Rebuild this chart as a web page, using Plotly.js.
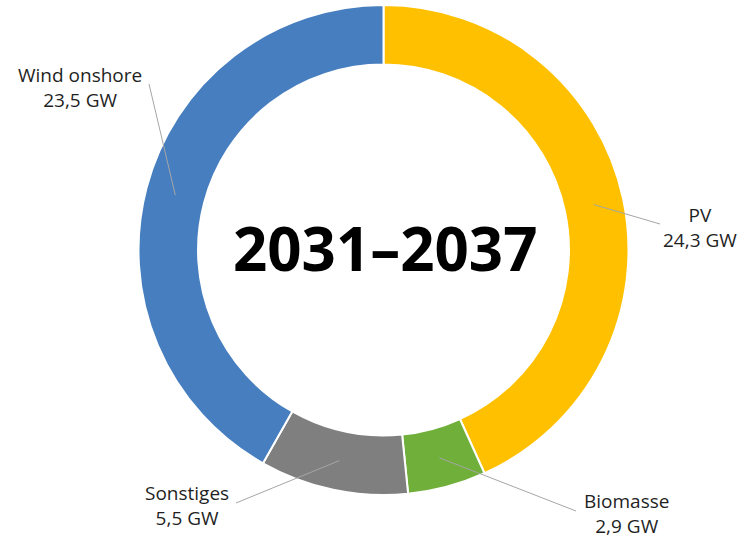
<!DOCTYPE html>
<html>
<head>
<meta charset="utf-8">
<script src="https://cdn.plot.ly/plotly-3.0.1.min.js"></script>
<style>html,body{margin:0;padding:0;background:#fff;}#chart{width:748px;height:538px;}</style>
</head>
<body>
<div id="chart"></div>
<script>
const categories = ["PV", "Biomasse", "Sonstiges", "Wind onshore"];
const values = [24.3, 2.9, 5.5, 23.5];
const valueLabels = ["24,3 GW", "2,9 GW", "5,5 GW", "23,5 GW"];
const colors = ["#FFC000", "#6FAF3A", "#7F7F7F", "#467EBF"];
const centerTitle = "2031–2037";

const W = 748, H = 538;
const cx = 383.5, cy = 250, R = 245, hole = 0.757;
// label anchor positions (pixels): text centre, and the leader line's outer end
const labelPos = [
  {tx: 700, ty: 227, lx: 660, ly: 224},
  {tx: 626, ty: 513, lx: 576, ly: 511},
  {tx: 187, ty: 505, lx: 236, ly: 503},
  {tx: 80,  ty: 87,  lx: 149, ly: 84}
];

const total = values.reduce((a, b) => a + b, 0);
const shapes = [], annotations = [];
let cum = 0;
const rMid = R * (1 + hole) / 2;
values.forEach((v, i) => {
  const mid = (cum + v / 2) / total * 2 * Math.PI;
  cum += v;
  const px = cx + rMid * Math.sin(mid);
  const py = cy - rMid * Math.cos(mid);
  const p = labelPos[i];
  shapes.push({type: 'line', xref: 'paper', yref: 'paper',
    x0: px / W, y0: 1 - py / H, x1: p.lx / W, y1: 1 - p.ly / H,
    line: {color: '#A6A6A6', width: 1}});
  annotations.push({xref: 'paper', yref: 'paper', x: p.tx / W, y: 1 - p.ty / H,
    xanchor: 'center', yanchor: 'middle', showarrow: false,
    text: categories[i] + '<br>' + valueLabels[i],
    font: {family: 'Open Sans, sans-serif', size: 19, color: '#1F1F1F'}});
});
annotations.push({xref: 'paper', yref: 'paper', x: (cx + 1) / W, y: 1 - (cy - 2) / H,
  xanchor: 'center', yanchor: 'middle', showarrow: false,
  text: '<b>' + centerTitle + '</b>',
  font: {family: 'Open Sans, sans-serif', size: 60, color: '#000000'}});

const data = [{
  type: 'pie',
  labels: categories,
  values: values,
  sort: false,
  direction: 'clockwise',
  rotation: 0,
  hole: hole,
  textinfo: 'none',
  hoverinfo: 'none',
  marker: {colors: colors, line: {color: '#FFFFFF', width: 2}},
  domain: {x: [(cx - R) / W, (cx + R) / W], y: [1 - (cy + R) / H, 1 - (cy - R) / H]},
  showlegend: false
}];

const layout = {
  width: W, height: H,
  margin: {l: 0, r: 0, t: 0, b: 0},
  paper_bgcolor: '#FFFFFF',
  showlegend: false,
  shapes: shapes,
  annotations: annotations
};

Plotly.newPlot('chart', data, layout, {displayModeBar: false, staticPlot: true});
</script>
</body>
</html>
